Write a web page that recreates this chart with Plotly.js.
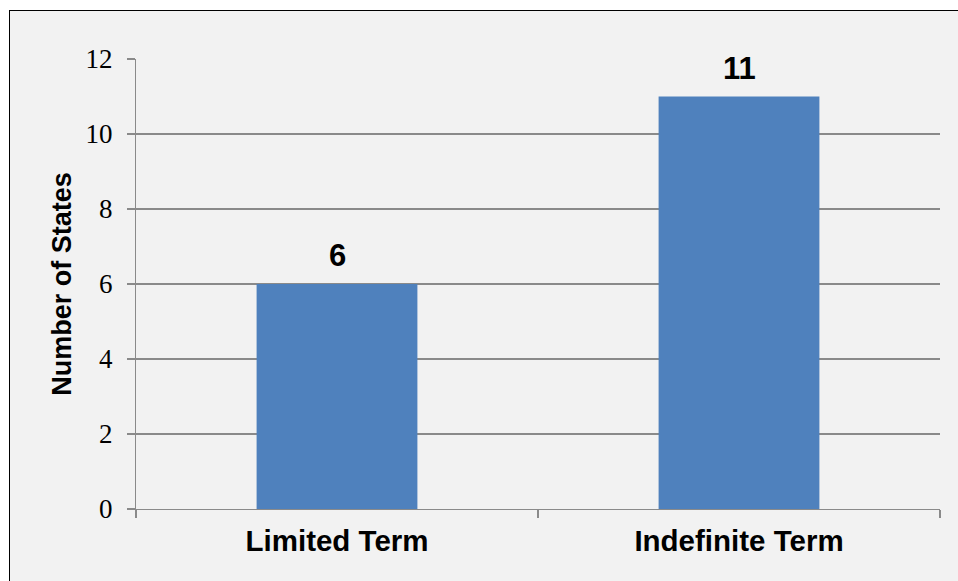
<!DOCTYPE html>
<html>
<head>
<meta charset="utf-8">
<script src="https://cdn.plot.ly/plotly-3.0.1.min.js"></script>
<style>
  html, body { margin: 0; padding: 0; background: #ffffff; overflow: hidden; }
  #frame { position: absolute; left: 9px; top: 10px; width: 1000px; height: 620px;
           background: #f2f2f2; border: 1.5px solid #000; box-sizing: border-box; }
  #chart { position: absolute; left: 0; top: 0; width: 958px; height: 581px; }
</style>
</head>
<body>
<div id="frame"></div>
<div id="chart"></div>
<script>
const categories = ["Limited Term", "Indefinite Term"];
const values = [6, 11];
const tickValues = [0, 2, 4, 6, 8, 10, 12];

const barColor = "#4f81bd";
const gridColor = "#8a8a8a";

const trace = {
  type: "bar",
  x: categories,
  y: values,
  marker: { color: barColor },
  hoverinfo: "none"
};

const annotations = categories.map((c, i) => ({
  x: c, y: values[i], xref: "x", yref: "y",
  text: "<b>" + values[i] + "</b>",
  showarrow: false, yanchor: "bottom", yshift: 9,
  font: { family: "Liberation Sans, Arial, sans-serif", size: 31, color: "#000" }
}));

const layout = {
  width: 958, height: 581,
  margin: { l: 136, r: 17.5, t: 58.5, b: 72, pad: 0 },
  paper_bgcolor: "rgba(0,0,0,0)",
  plot_bgcolor: "rgba(0,0,0,0)",
  bargap: 0.6,
  showlegend: false,
  xaxis: {
    type: "category",
    showgrid: false,
    showline: true, linecolor: gridColor, linewidth: 1.2,
    ticks: "outside", tickson: "boundaries", ticklen: 8, tickcolor: gridColor, tickwidth: 1.2,
    ticklabelstandoff: 5,
    tickfont: { family: "Liberation Sans, Arial, sans-serif", size: 29.5, color: "#000", weight: "bold" },
    fixedrange: true
  },
  yaxis: {
    range: [0, 12],
    tickvals: tickValues,
    ticktext: tickValues.map(String),
    showgrid: true, gridcolor: gridColor, gridwidth: 1.2,
    zeroline: false,
    showline: true, linecolor: gridColor, linewidth: 1.2,
    ticks: "outside", ticklen: 8, tickcolor: gridColor, tickwidth: 1.2,
    ticklabelstandoff: 9,
    tickfont: { family: "Liberation Serif, Times New Roman, serif", size: 27, color: "#000" },
    title: {
      text: "<b>Number of States</b>",
      standoff: 6,
      font: { family: "Liberation Sans, Arial, sans-serif", size: 27, color: "#000" }
    },
    automargin: false,
    fixedrange: true
  },
  annotations: annotations
};

Plotly.newPlot("chart", [trace], layout, { displayModeBar: false, staticPlot: true });
</script>
</body>
</html>
